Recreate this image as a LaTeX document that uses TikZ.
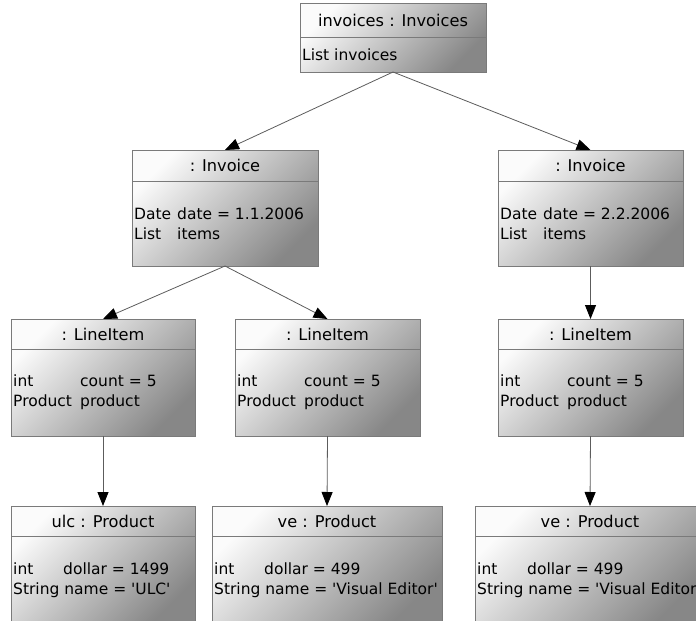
\documentclass[tikz,border=0pt]{standalone}
\usepackage{fontspec}
\setmainfont{DejaVu Sans}
\usetikzlibrary{arrows.meta}

\definecolor{boxline}{HTML}{7A7A7A}
\definecolor{linkline}{HTML}{5C5C5C}
\definecolor{shadelight}{HTML}{FBFBFB}
\definecolor{shadedark}{HTML}{878787}

\tikzset{
  objbox/.style={draw=boxline, line width=0.9pt, top color=shadelight,
    bottom color=shadedark, shading angle=45, inner sep=0pt, outer sep=0pt,
    anchor=north west},
  boxsep/.style={draw=boxline, line width=0.9pt},
  headtext/.style={inner sep=0pt, font=\fontsize{16.2}{20}\selectfont},
  bodytext/.style={inner sep=0pt, anchor=west, align=left,
    font=\fontsize{15.5}{20}\selectfont},
  link/.style={draw=linkline, line width=0.8pt,
    -{Triangle[length=14pt, width=11pt, color=black]}},
}

% one attribute row: type padded to a fixed column, then the name
\newcommand\attrline[3]{\makebox[#1pt][l]{#2}#3}
% straight single quote
\newcommand\sq{\textquotesingle}

% #1 name, #2 left, #3 top, #4 right, #5 bottom, #6 separator, #7 header, #8 body
\newcommand\umlobj[8]{%
  \node[objbox, minimum width={(#4-#2)*1pt}, minimum height={(#5-#3)*1pt}] (#1) at (#2,#3) {};
  \draw[boxsep] (#2,#6) -- (#4,#6);
  \node[headtext] (#1-head) at ({(#2+#4)/2},{(#3+#6)/2}) {#7};
  \node[bodytext] (#1-body) at ({#2+2},{(#6+#5)/2}) {#8};
}

\begin{document}
\begin{tikzpicture}[x=1pt, y=-1pt]
  \useasboundingbox (0,0) rectangle (696,621);

  \umlobj{invoices}{300}{3}{486}{72}{37}{invoices : Invoices}{List invoices}

  \umlobj{inv1}{132}{150}{318}{266}{181}{: Invoice}%
    {\attrline{43}{Date}{date = 1.1.2006}\\\attrline{43}{List}{items}}
  \umlobj{inv2}{498}{150}{683}{266}{181}{: Invoice}%
    {\attrline{43}{Date}{date = 2.2.2006}\\\attrline{43}{List}{items}}

  \umlobj{li1}{11}{319}{195}{436}{349}{: LineItem}%
    {\attrline{67}{int}{count = 5}\\\attrline{67}{Product}{product}}
  \umlobj{li2}{235}{319}{420}{436}{349}{: LineItem}%
    {\attrline{67}{int}{count = 5}\\\attrline{67}{Product}{product}}
  \umlobj{li3}{498}{319}{683}{436}{349}{: LineItem}%
    {\attrline{67}{int}{count = 5}\\\attrline{67}{Product}{product}}

  \umlobj{p1}{11}{506}{195}{624}{536}{ulc : Product}%
    {\attrline{50}{int}{dollar = 1499}\\String name = \sq ULC\sq}
  \umlobj{p2}{212}{506}{442}{624}{536}{ve : Product}%
    {\attrline{50}{int}{dollar = 499}\\String name = \sq Visual Editor\sq}
  \umlobj{p3}{475}{506}{705}{624}{536}{ve : Product}%
    {\attrline{50}{int}{dollar = 499}\\String name = \sq Visual Editor\sq}

  \draw[link] (invoices.south) -- (inv1.north);
  \draw[link] (invoices.south) -- (inv2.north);
  \draw[link] (inv1.south) -- (li1.north);
  \draw[link] (inv1.south) -- (li2.north);
  \draw[link] (inv2.south) -- (li3.north);
  \draw[link] (li1.south) -- (p1.north);
  \draw[link] (li2.south) -- (p2.north);
  \draw[link] (li3.south) -- (p3.north);
\end{tikzpicture}
\end{document}
